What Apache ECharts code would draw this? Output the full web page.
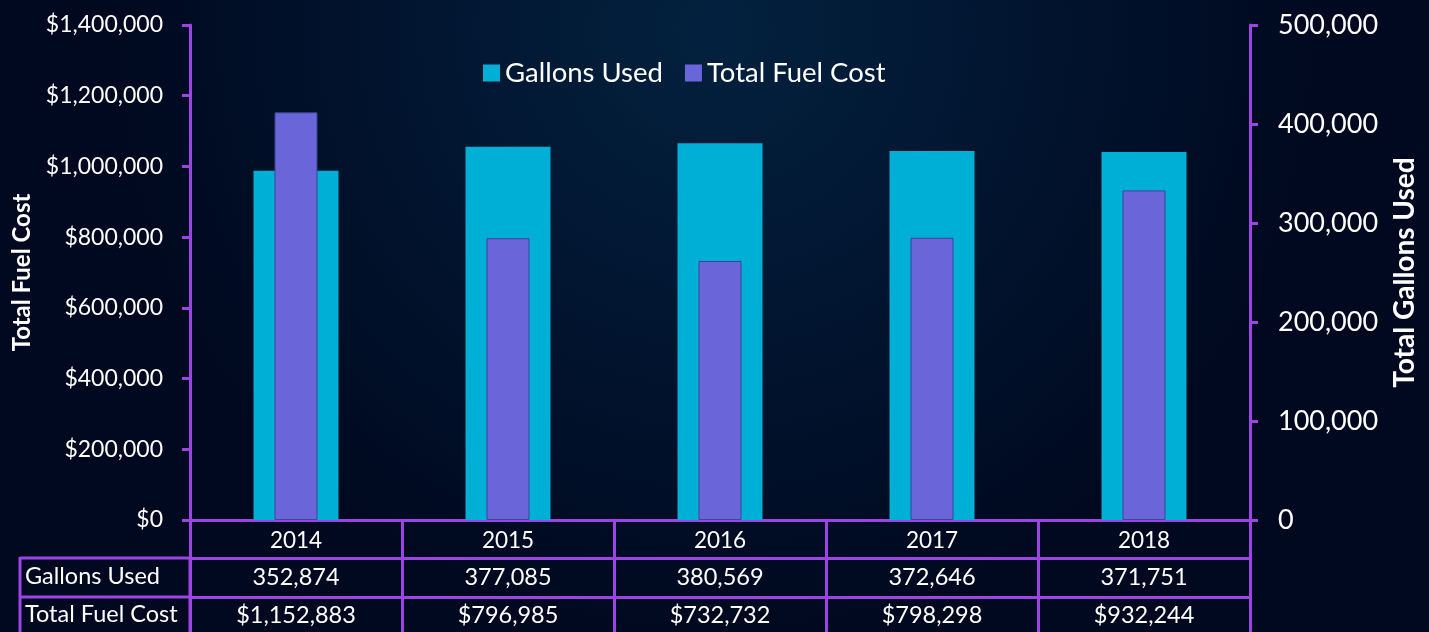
<!DOCTYPE html>
<html>
<head>
<meta charset="utf-8">
<script src="https://cdn.jsdelivr.net/npm/echarts@6/dist/echarts.min.js"></script>
<style>
  html, body { margin: 0; padding: 0; background: #010b24; }
  #chart { width: 1429px; height: 632px; }
</style>
</head>
<body>
<div id="chart"></div>
<script>
const years = ['2014', '2015', '2016', '2017', '2018'];
const gallonsUsed = [352874, 377085, 380569, 372646, 371751];
const totalFuelCost = [1152883, 796985, 732732, 798298, 932244];
const costTicks = [0, 1400000, 200000];
const gallonTicks = [0, 500000, 100000];

const purple = '#9d44e4';
const font = 'Lato, "Open Sans", sans-serif';
const fmt = v => v.toLocaleString('en-US');
const money = v => '$' + fmt(v);

const chartDom = document.getElementById('chart');
const myChart = echarts.init(chartDom);

// rows of the data table under the chart, drawn as extra category axes
const tableAxis = (labels, offset, len, margin) => ({
    type: 'category',
    data: labels,
    position: 'bottom',
    offset: offset,
    axisLine: { show: true, onZero: false, lineStyle: { color: purple, width: 3 } },
    axisTick: { show: true, interval: 0, length: len, lineStyle: { color: purple, width: 3 } },
    axisLabel: { color: '#ffffff', fontSize: 23.5, fontFamily: font, margin: margin, interval: 0 }
});

const option = {
    backgroundColor: {
        type: 'radial', x: 0.5, y: 0.05, r: 0.95,
        colorStops: [
            { offset: 0, color: '#03213f' },
            { offset: 1, color: '#000920' }
        ]
    },
    textStyle: { fontFamily: font },
    legend: {
        left: 478,
        top: 54,
        itemWidth: 17,
        itemHeight: 17,
        itemGap: 22,
        icon: 'rect',
        itemStyle: { borderWidth: 0 },
        textStyle: { color: '#ffffff', fontSize: 27.5, fontFamily: font },
        data: ['Gallons Used', 'Total Fuel Cost']
    },
    grid: { left: 190, right: 179, top: 25, bottom: 112, containLabel: false, outerBoundsMode: 'none' },
    xAxis: [
        {
            type: 'category',
            data: years,
            axisLine: { show: true, onZero: false, lineStyle: { color: purple, width: 3 } },
            axisTick: { show: true, interval: 0, length: 38, lineStyle: { color: purple, width: 3 } },
            axisLabel: { color: '#ffffff', fontSize: 22.5, fontFamily: font, margin: 9 }
        },
        tableAxis(gallonsUsed.map(fmt), 38, 39, 7),
        tableAxis(totalFuelCost.map(money), 77, 40, 6),
        // hidden twin axis so the narrow cost bars sit centred on the wide gallon bars
        { type: 'category', data: years, show: false }
    ],
    yAxis: [
        {
            type: 'value',
            min: costTicks[0], max: costTicks[1], interval: costTicks[2],
            name: 'Total Fuel Cost',
            nameLocation: 'middle',
            nameGap: 156,
            nameTextStyle: { color: '#ffffff', fontSize: 24, fontWeight: 'bold', fontFamily: font },
            axisLine: { show: true, lineStyle: { color: purple, width: 3 } },
            axisTick: { show: true, length: 8, lineStyle: { color: purple, width: 3 } },
            axisLabel: { color: '#ffffff', fontSize: 23, fontFamily: font, margin: 27, formatter: money },
            splitLine: { show: false }
        },
        {
            type: 'value',
            min: gallonTicks[0], max: gallonTicks[1], interval: gallonTicks[2],
            position: 'right',
            name: 'Total Gallons Used',
            nameLocation: 'middle',
            nameGap: 141,
            nameRotate: 90,
            nameTextStyle: { color: '#ffffff', fontSize: 28, fontWeight: 'bold', fontFamily: font },
            axisLine: { show: true, lineStyle: { color: purple, width: 3 } },
            axisTick: { show: true, length: 8, lineStyle: { color: purple, width: 3 } },
            axisLabel: { color: '#ffffff', fontSize: 27, fontFamily: font, margin: 28, formatter: fmt },
            splitLine: { show: false }
        }
    ],
    series: [
        {
            name: 'Gallons Used',
            type: 'bar',
            xAxisIndex: 0,
            yAxisIndex: 1,
            barWidth: 85,
            itemStyle: { color: '#00afd6' },
            data: gallonsUsed
        },
        {
            name: 'Total Fuel Cost',
            type: 'bar',
            xAxisIndex: 3,
            yAxisIndex: 0,
            barWidth: 43,
            itemStyle: { color: '#6a66da', borderColor: '#3a4596', borderWidth: 1 },
            data: totalFuelCost
        }
    ],
    graphic: [
        { type: 'line', shape: { x1: 20, y1: 558, x2: 190, y2: 558 }, style: { stroke: purple, lineWidth: 3 } },
        { type: 'line', shape: { x1: 20, y1: 597, x2: 190, y2: 597 }, style: { stroke: purple, lineWidth: 3 } },
        { type: 'line', shape: { x1: 20, y1: 557, x2: 20, y2: 632 }, style: { stroke: purple, lineWidth: 3 } },
        { type: 'line', shape: { x1: 190, y1: 557, x2: 190, y2: 632 }, style: { stroke: purple, lineWidth: 3 } },
        { type: 'text', left: 25, top: 564, style: { text: 'Gallons Used', fill: '#ffffff', fontSize: 23.5, fontFamily: font } },
        { type: 'text', left: 25, top: 602, style: { text: 'Total Fuel Cost', fill: '#ffffff', fontSize: 23.5, fontFamily: font } }
    ]
};

myChart.setOption(option);
</script>
</body>
</html>
